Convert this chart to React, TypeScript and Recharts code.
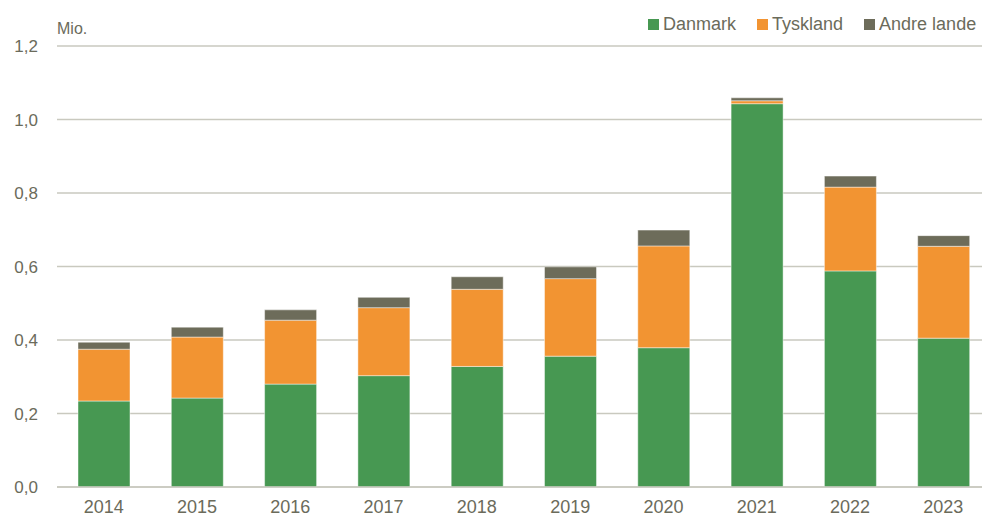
import React from "react";
import { BarChart, Bar, XAxis, YAxis, CartesianGrid } from "recharts";

// Data (mio.)
const years = ["2014", "2015", "2016", "2017", "2018", "2019", "2020", "2021", "2022", "2023"];
const danmark = [0.234, 0.242, 0.28, 0.303, 0.328, 0.356, 0.379, 1.043, 0.588, 0.405];
const tyskland = [0.141, 0.166, 0.174, 0.185, 0.21, 0.211, 0.277, 0.008, 0.228, 0.25];
const andreLande = [0.019, 0.027, 0.028, 0.028, 0.034, 0.032, 0.043, 0.008, 0.03, 0.029];
const yTicks = [0, 0.2, 0.4, 0.6, 0.8, 1.0, 1.2];

const series = [
  { key: "Danmark", color: "#479852" },
  { key: "Tyskland", color: "#f29432" },
  { key: "Andre lande", color: "#6d6c5a" },
];

const data = years.map((y, i) => ({
  year: y,
  Danmark: danmark[i],
  Tyskland: tyskland[i],
  "Andre lande": andreLande[i],
}));

const font = "'Liberation Sans', Arial, sans-serif";
const textColor = "#6b6b5b";
const gridColor = "#c9c9bf";

// legend oben rechts
function LegendBox() {
  return (
    <div
      style={{
        position: "absolute",
        left: 648,
        top: 13,
        display: "flex",
        fontFamily: font,
        fontSize: 18,
        color: textColor,
        lineHeight: "22px",
      }}
    >
      {series.map((s, i) => (
        <div
          key={s.key}
          style={{ display: "flex", alignItems: "center", marginLeft: i === 0 ? 0 : 21 }}
        >
          <span style={{ width: 11, height: 11, background: s.color, marginRight: 4 }} />
          <span>{s.key}</span>
        </div>
      ))}
    </div>
  );
}

export default function App() {
  return (
    <div
      style={{
        position: "fixed",
        left: 0,
        top: 0,
        width: 982,
        height: 522,
        overflow: "hidden",
        background: "#fff",
      }}
    >
      <BarChart
        width={990}
        height={522}
        data={data}
        margin={{ top: 46, right: 0, bottom: 0, left: 0 }}
        barSize={52}
      >
        <CartesianGrid vertical={false} stroke={gridColor} strokeWidth={1.5} />
        <XAxis
          dataKey="year"
          height={35}
          tick={{ fill: textColor, fontSize: 18, fontFamily: font }}
          axisLine={{ stroke: gridColor, strokeWidth: 1.5 }}
          tickLine={false}
          tickSize={0}
          tickMargin={13}
        />
        <YAxis
          width={57}
          domain={[0, 1.2]}
          ticks={yTicks}
          tickFormatter={(v: number) => v.toFixed(1).replace(".", ",")}
          tick={{ fill: textColor, fontSize: 17, fontFamily: font }}
          axisLine={false}
          tickLine={false}
          tickSize={0}
          tickMargin={19}
        />
        {series.map((s) => (
          <Bar
            key={s.key}
            dataKey={s.key}
            stackId="a"
            fill={s.color}
            stroke="rgba(255,255,255,0.45)"
            strokeWidth={1}
            isAnimationActive={false}
          />
        ))}
      </BarChart>
      <div
        style={{
          position: "absolute",
          left: 57,
          top: 20,
          fontFamily: font,
          fontSize: 16,
          color: textColor,
        }}
      >
        Mio.
      </div>
      <LegendBox />
    </div>
  );
}
